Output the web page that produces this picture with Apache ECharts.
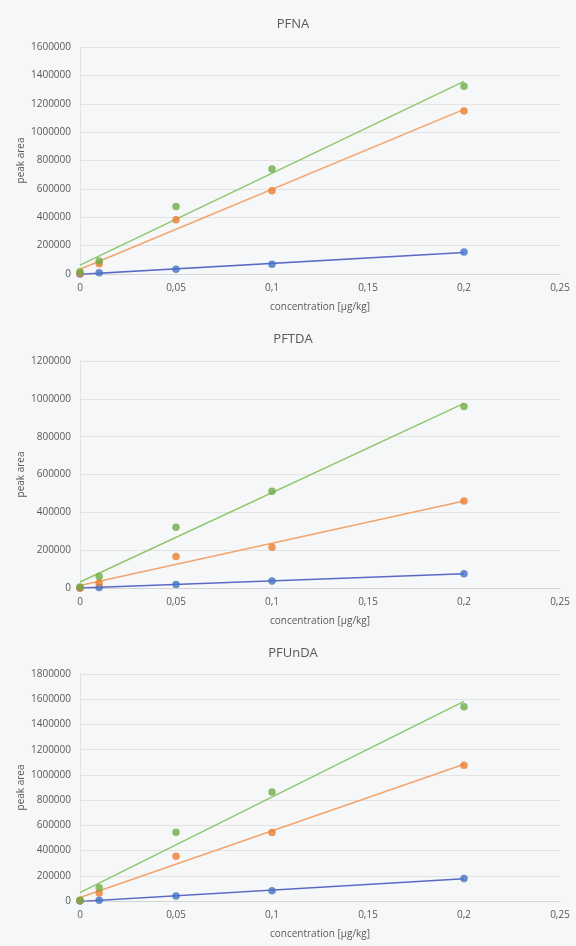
<!DOCTYPE html>
<html>
<head>
<meta charset="utf-8">
<script src="https://cdn.jsdelivr.net/npm/echarts@6/dist/echarts.min.js"></script>
<style>
  html, body { margin: 0; padding: 0; background: #f6f7f8; }
  #chart { width: 576px; height: 946px; }
</style>
</head>
<body>
<div id="chart"></div>
<script>
// Calibration standards: concentration in µg/kg
const concentrations = [0, 0.01, 0.05, 0.1, 0.2];
const xTicks = [0, 0.05, 0.1, 0.15, 0.2, 0.25];
const xTickLabels = ['0', '0,05', '0,1', '0,15', '0,2', '0,25'];

const analytes = ['PFNA', 'PFTDA', 'PFUnDA'];
const yMax = [1600000, 1200000, 1800000];

// Peak areas per analyte, three measurement series each
const pfnaBlue   = [0, 8000, 33000, 68000, 155000];
const pfnaOrange = [5000, 72000, 382000, 587000, 1149000];
const pfnaGreen  = [15000, 92000, 475000, 740000, 1323000];

const pftdaBlue   = [0, 2000, 19000, 37000, 75000];
const pftdaOrange = [0, 26000, 167000, 216000, 460000];
const pftdaGreen  = [5000, 61000, 321000, 512000, 960000];

const pfundaBlue   = [0, 5000, 40000, 82000, 178000];
const pfundaOrange = [3000, 64000, 355000, 543000, 1076000];
const pfundaGreen  = [5000, 106000, 546000, 864000, 1540000];

const seriesByAnalyte = [
  [pfnaBlue, pfnaOrange, pfnaGreen],
  [pftdaBlue, pftdaOrange, pftdaGreen],
  [pfundaBlue, pfundaOrange, pfundaGreen]
];

const markerColors = ['#4472C4', '#ED7D31', '#70AD47'];
const lineColors = ['#5a69c4', '#f3a46c', '#92c66b'];

// Least-squares linear trendline over the measured points
function linearFit(xs, ys) {
  const n = xs.length;
  const mx = xs.reduce((a, b) => a + b, 0) / n;
  const my = ys.reduce((a, b) => a + b, 0) / n;
  let sxy = 0, sxx = 0;
  for (let i = 0; i < n; i++) {
    sxy += (xs[i] - mx) * (ys[i] - my);
    sxx += (xs[i] - mx) * (xs[i] - mx);
  }
  const slope = sxy / sxx;
  return { slope, intercept: my - slope * mx };
}

const gridTops = [47, 361, 674];
const gridHeight = 227;
const titleTops = [13, 328, 642];
const textColor = '#595959';
const fontFamily = '"Open Sans", "Liberation Sans", sans-serif';

const option = {
  backgroundColor: '#f6f7f8',
  animation: false,
  title: analytes.map((name, i) => ({
    text: name,
    left: 288,
    textAlign: 'center',
    top: titleTops[i],
    textStyle: { color: textColor, fontSize: 13, fontWeight: 'normal', fontFamily }
  })),
  grid: gridTops.map(t => ({ left: 80, right: 16, top: t, height: gridHeight })),
  xAxis: analytes.map((_, i) => ({
    type: 'value',
    gridIndex: i,
    min: 0,
    max: 0.25,
    interval: 0.05,
    name: 'concentration [µg/kg]',
    nameLocation: 'middle',
    nameGap: 28,
    nameMoveOverlap: false,
    nameTextStyle: { color: textColor, fontSize: 10, fontFamily },
    axisLine: { show: true, lineStyle: { color: '#d4d4d4' } },
    axisTick: { show: false },
    splitLine: { show: false },
    axisLabel: {
      color: textColor,
      fontSize: 10,
      fontFamily,
      margin: 9,
      formatter: v => {
        const k = xTicks.findIndex(t => Math.abs(t - v) < 1e-9);
        return k >= 0 ? xTickLabels[k] : String(v).replace('.', ',');
      }
    }
  })),
  yAxis: analytes.map((_, i) => ({
    type: 'value',
    gridIndex: i,
    min: 0,
    max: yMax[i],
    interval: 200000,
    name: 'peak area',
    nameLocation: 'middle',
    nameGap: 54,
    nameMoveOverlap: false,
    nameTextStyle: { color: textColor, fontSize: 10, fontFamily },
    axisLine: { show: true, lineStyle: { color: '#e2e2e2' } },
    axisTick: { show: false },
    splitLine: { show: true, lineStyle: { color: '#e3e3e3', width: 1 } },
    axisLabel: { color: textColor, fontSize: 10, fontFamily, margin: 9, formatter: v => String(v) }
  })),
  series: []
};

seriesByAnalyte.forEach((group, gi) => {
  group.forEach((values, si) => {
    const fit = linearFit(concentrations, values);
    const x0 = concentrations[0];
    const x1 = concentrations[concentrations.length - 1];
    option.series.push({
      type: 'line',
      xAxisIndex: gi,
      yAxisIndex: gi,
      data: [[x0, fit.intercept + fit.slope * x0], [x1, fit.intercept + fit.slope * x1]],
      showSymbol: false,
      silent: true,
      lineStyle: { color: lineColors[si], width: 1.5 },
      z: 2
    });
    option.series.push({
      type: 'scatter',
      xAxisIndex: gi,
      yAxisIndex: gi,
      data: concentrations.map((c, k) => [c, values[k]]),
      symbol: 'circle',
      symbolSize: 7.5,
      itemStyle: { color: markerColors[si] },
      z: 3
    });
  });
});

const chart = echarts.init(document.getElementById('chart'), null, { renderer: 'canvas' });
chart.setOption(option);
</script>
</body>
</html>
